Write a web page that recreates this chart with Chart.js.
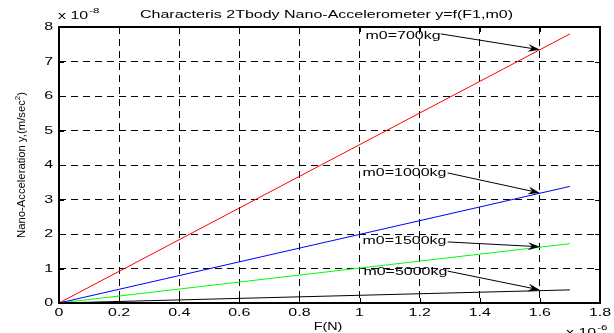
<!DOCTYPE html>
<html>
<head>
<meta charset="utf-8">
<script src="https://cdn.jsdelivr.net/npm/chart.js@4.4.1/dist/chart.umd.min.js"></script>
<style>
  html, body { margin: 0; padding: 0; background: #fff; }
  canvas { display: block; }
</style>
</head>
<body>
<canvas id="accelChart" width="614" height="333"></canvas>
<script>
// F(N) is in units of 1e-6, acceleration in units of 1e-8
const forceValues = [0, 1.7];
const accel700 = [0, 7.8];
const accel1000 = [0, 3.38];
const accel1500 = [0, 1.72];
const accel5000 = [0, 0.38];
const massLabels = ['m0=700kg', 'm0=1000kg', 'm0=1500kg', 'm0=5000kg'];
const xTickLabels = ['0', '0.2', '0.4', '0.6', '0.8', '1', '1.2', '1.4', '1.6', '1.8'];
const yTickLabels = ['0', '1', '2', '3', '4', '5', '6', '7', '8'];

// text labels with arrows, in data coordinates
const notes = [
  { text: massLabels[0], x: 1.02, y: 7.75, from: [1.27, 7.80], to: [1.6, 7.34] },
  { text: massLabels[1], x: 1.01, y: 3.76, from: [1.293, 3.77], to: [1.6, 3.19] },
  { text: massLabels[2], x: 1.01, y: 1.80, from: [1.293, 1.77], to: [1.6, 1.63] },
  { text: massLabels[3], x: 1.013, y: 0.905, from: [1.293, 0.925], to: [1.6, 0.38] }
];

const FONT = '"Liberation Sans", Arial, sans-serif';
const SX = 1.45; // the reference text is stretched sideways

function wideText(ctx, str, x, y, size, align, baseline, sx) {
  sx = sx || SX;
  ctx.save();
  ctx.font = size + 'px ' + FONT;
  ctx.textBaseline = baseline || 'alphabetic';
  ctx.textAlign = 'left';
  const w = ctx.measureText(str).width * sx;
  let left = x;
  if (align === 'center') left = x - w / 2;
  else if (align === 'right') left = x - w;
  ctx.translate(left, y);
  ctx.scale(sx, 1);
  ctx.fillText(str, 0, 0);
  ctx.restore();
  return left + w;
}

function drawArrow(ctx, x1, y1, x2, y2) {
  const ang = Math.atan2(y2 - y1, x2 - x1);
  const len = 12, half = 4;
  ctx.beginPath();
  ctx.moveTo(x1, y1);
  ctx.lineTo(x2 - Math.cos(ang) * len * 0.6, y2 - Math.sin(ang) * len * 0.6);
  ctx.stroke();
  ctx.save();
  ctx.translate(x2, y2);
  ctx.rotate(ang);
  ctx.beginPath();
  ctx.moveTo(0, 0);
  ctx.lineTo(-len, -half);
  ctx.lineTo(-len * 0.65, 0);
  ctx.lineTo(-len, half);
  ctx.closePath();
  ctx.fill();
  ctx.restore();
}

const matlabFrame = {
  id: 'matlabFrame',
  afterDraw(chart) {
    const { ctx, chartArea: a } = chart;
    const xs = chart.scales.x, ys = chart.scales.y;
    ctx.save();
    ctx.strokeStyle = '#000';
    ctx.fillStyle = '#000';

    // inward ticks
    ctx.lineWidth = 1;
    ctx.beginPath();
    xs.ticks.forEach(t => {
      const px = Math.round(xs.getPixelForValue(t.value)) + 0.5;
      ctx.moveTo(px, a.bottom); ctx.lineTo(px, a.bottom - 5);
      ctx.moveTo(px, a.top); ctx.lineTo(px, a.top + 5);
    });
    ys.ticks.forEach(t => {
      const py = Math.round(ys.getPixelForValue(t.value)) + 0.5;
      ctx.moveTo(a.left, py); ctx.lineTo(a.left + 5, py);
      ctx.moveTo(a.right, py); ctx.lineTo(a.right - 5, py);
    });
    ctx.stroke();

    // box
    ctx.lineWidth = 2;
    ctx.strokeRect(a.left, a.top, a.right - a.left, a.bottom - a.top);

    // tick labels
    xs.ticks.forEach((t, i) => {
      wideText(ctx, t.label || xTickLabels[i], xs.getPixelForValue(t.value), 316, 11, 'center');
    });
    ys.ticks.forEach((t, i) => {
      wideText(ctx, t.label || yTickLabels[i], a.left - 6, ys.getPixelForValue(t.value), 11, 'right', 'middle');
    });

    // exponents
    let e = wideText(ctx, 'x 10', 58, 19, 11, 'left');
    wideText(ctx, '-8', e + 1, 13, 8, 'left');
    e = wideText(ctx, 'x 10', 566, 336, 11, 'left');
    wideText(ctx, '-6', e + 1, 330, 8, 'left');

    // title
    ctx.font = '11.5px ' + FONT;
    const title = 'Characteris 2Tbody Nano-Accelerometer y=f(F1,m0)';
    const tsx = 373 / ctx.measureText(title).width;
    wideText(ctx, title, 326.5, 18, 11.5, 'center', 'alphabetic', tsx);

    // axis titles
    wideText(ctx, 'F(N)', 328, 330, 11, 'center', 'alphabetic', 1.3);

    ctx.save();
    ctx.font = '10px ' + FONT;
    const yMain = 'Nano-Acceleration y,(m/sec';
    const wMain = ctx.measureText(yMain).width;
    ctx.font = '7px ' + FONT;
    const wSup = ctx.measureText('2').width;
    ctx.font = '10px ' + FONT;
    const wEnd = ctx.measureText(')').width;
    const total = wMain + wSup + wEnd;
    const along = 146 / total;
    ctx.translate(25, 165);
    ctx.rotate(-Math.PI / 2);
    ctx.scale(along, 1.05);
    ctx.textBaseline = 'alphabetic';
    ctx.textAlign = 'left';
    let px = -total / 2;
    ctx.fillText(yMain, px, 0);
    px += wMain;
    ctx.font = '7px ' + FONT;
    ctx.fillText('2', px, -5);
    px += wSup;
    ctx.font = '10px ' + FONT;
    ctx.fillText(')', px, 0);
    ctx.restore();

    // mass annotations
    ctx.lineWidth = 1;
    notes.forEach(n => {
      wideText(ctx, n.text, xs.getPixelForValue(n.x), ys.getPixelForValue(n.y), 11, 'left', 'middle');
      drawArrow(ctx,
        xs.getPixelForValue(n.from[0]), ys.getPixelForValue(n.from[1]),
        xs.getPixelForValue(n.to[0]), ys.getPixelForValue(n.to[1]));
    });
    ctx.restore();
  }
};

function series(values) {
  return forceValues.map((f, i) => ({ x: f, y: values[i] }));
}

new Chart(document.getElementById('accelChart'), {
  type: 'line',
  data: {
    datasets: [
      { label: massLabels[0], data: series(accel700), borderColor: '#ff0000' },
      { label: massLabels[1], data: series(accel1000), borderColor: '#0000ff' },
      { label: massLabels[2], data: series(accel1500), borderColor: '#00ff00' },
      { label: massLabels[3], data: series(accel5000), borderColor: '#000000' }
    ]
  },
  options: {
    responsive: false,
    animation: false,
    devicePixelRatio: 1,
    layout: { padding: { left: 0, right: 14, top: 27, bottom: 0 } },
    plugins: {
      legend: { display: false },
      title: { display: false },
      tooltip: { enabled: false }
    },
    elements: {
      point: { radius: 0 },
      line: { borderWidth: 1, tension: 0, fill: false }
    },
    scales: {
      x: {
        type: 'linear',
        min: 0,
        max: 1.8,
        afterFit: s => { s.height = 30; },
        ticks: { stepSize: 0.2, display: false, callback: (v, i) => xTickLabels[i] },
        grid: { color: '#000', lineWidth: 1, drawTicks: false },
        border: { display: false, dash: [7, 5] }
      },
      y: {
        type: 'linear',
        min: 0,
        max: 8,
        afterFit: s => { s.width = 59; },
        ticks: { stepSize: 1, display: false, callback: (v, i) => yTickLabels[i] },
        grid: { color: '#000', lineWidth: 1, drawTicks: false },
        border: { display: false, dash: [7, 5] }
      }
    }
  },
  plugins: [matlabFrame]
});
</script>
</body>
</html>
